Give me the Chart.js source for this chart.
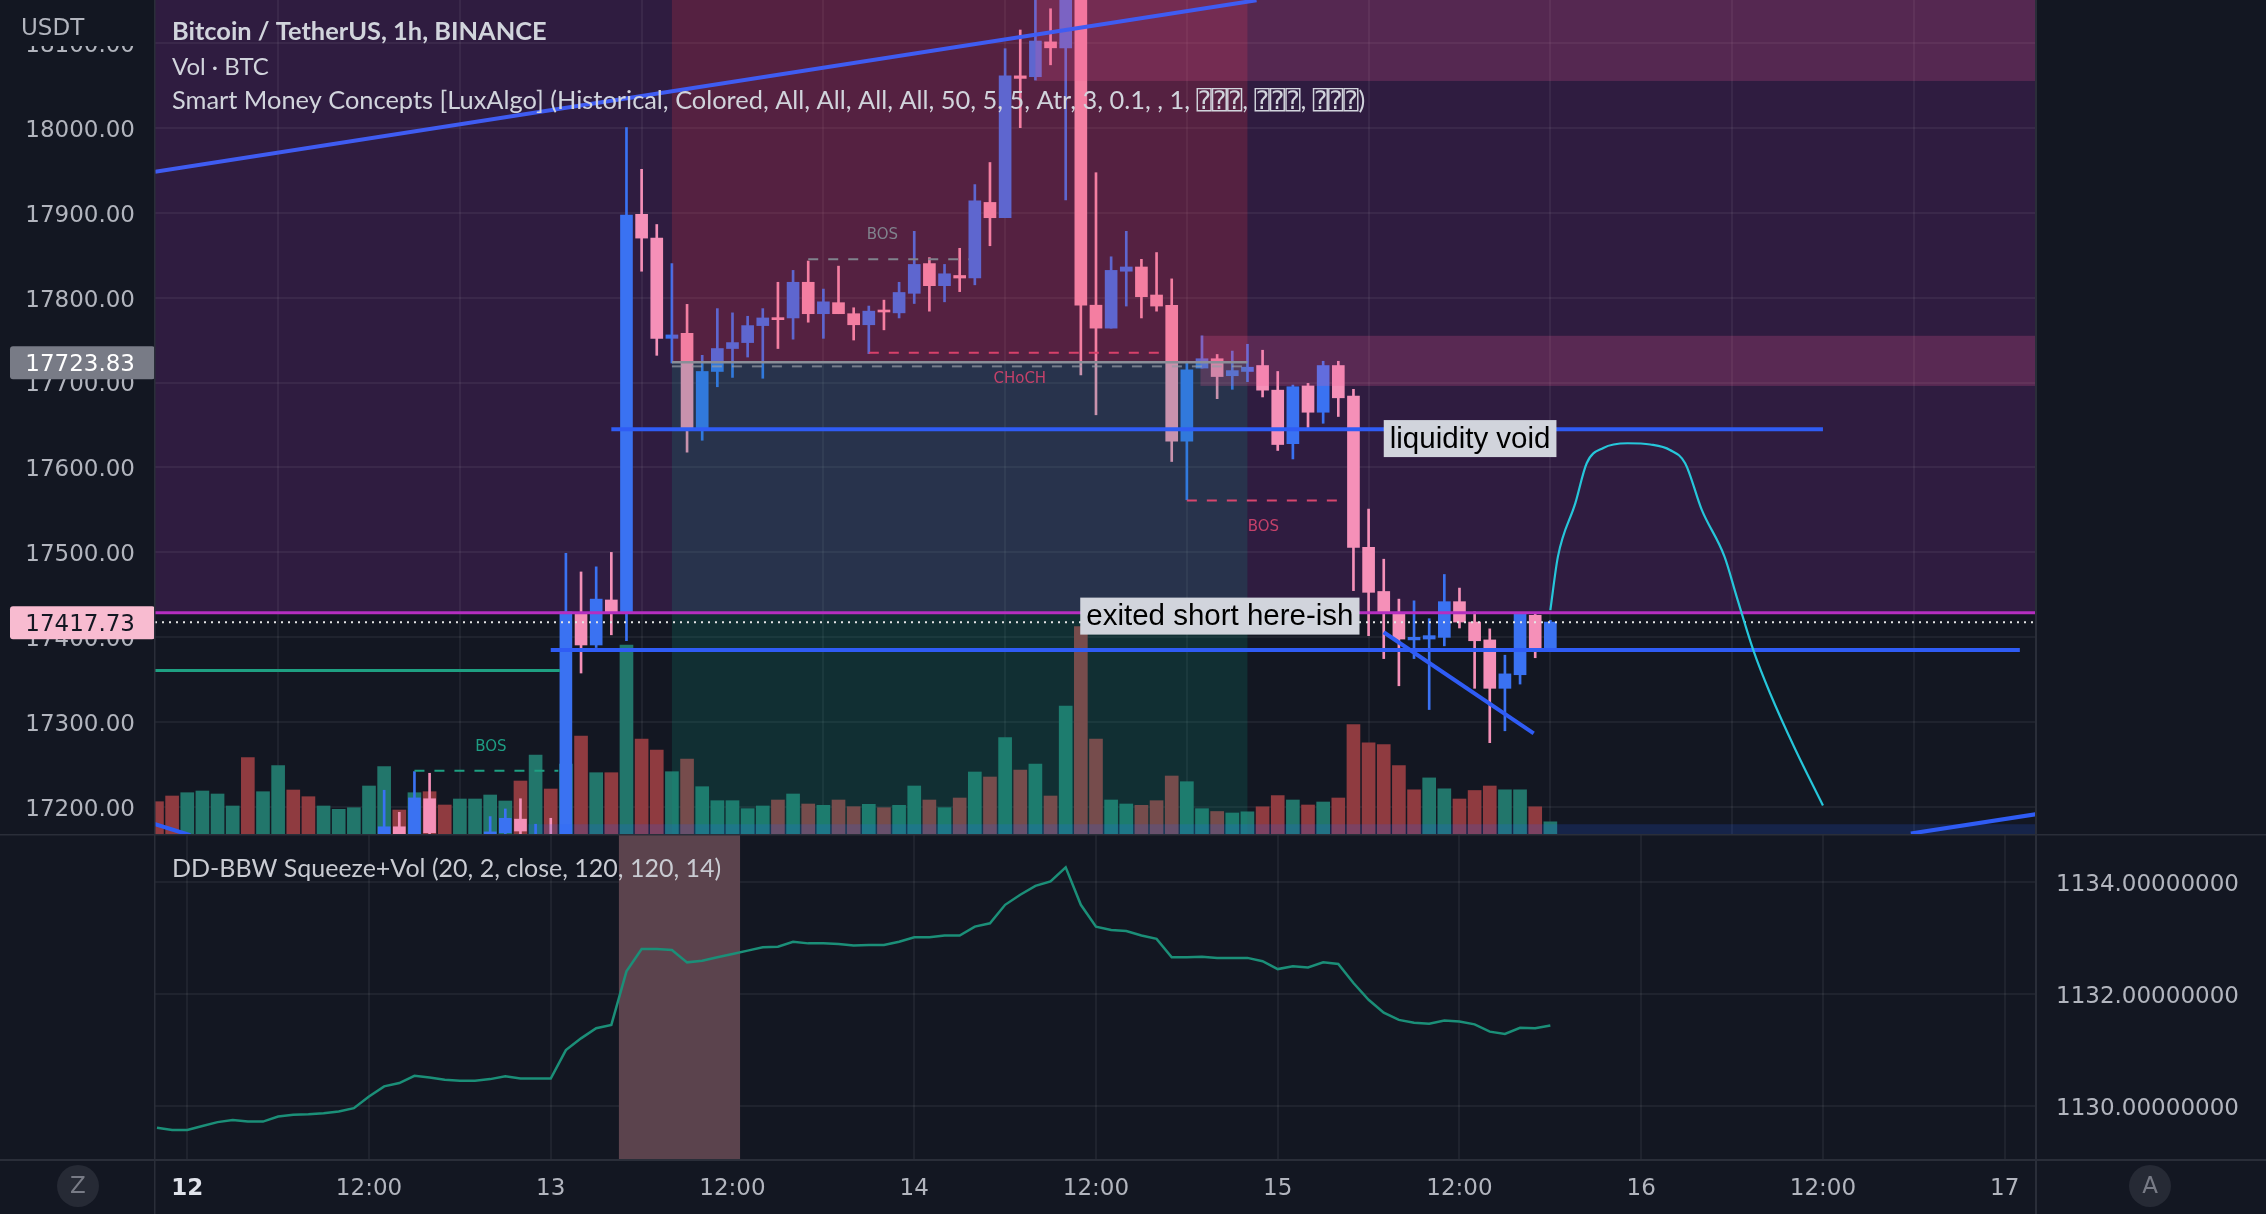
<!DOCTYPE html>
<html>
<head>
<meta charset="utf-8">
<title>Bitcoin / TetherUS, 1h, BINANCE</title>
<script src="https://cdn.jsdelivr.net/npm/chart.js@4.4.1/dist/chart.umd.min.js"></script>
<style>
  html, body { margin:0; padding:0; background:#131722; }
  body { width:2266px; height:1214px; position:relative; overflow:hidden; }
  canvas { position:absolute; left:0; display:block; }
  #main { top:0; }
  #lower { top:834px; }
</style>
</head>
<body>
<canvas id="main" width="2266" height="834"></canvas>
<canvas id="lower" width="2266" height="380"></canvas>
<script>
// ---------------- DATA ----------------
// first bar = 11 Dec 22:00 (hour -2 relative to 12 Dec 00:00), one bar per hour
const START_HOUR = -2;

const opens = [
  17150,17140,17128,17135,17142,17150,17153,17125,17132,17150,17138,17130,17136,17140,17145, // -2..12
  17150,17177,17165,17210,17165,17150,17158,17160,17170,17186,17165,17166,                   // 13..24
  17155,17428,17391,17444,17428,17898,17870,17752,17758,17646,17713,17740,                   // 25..36
  17747,17767,17776,17776,17818,17781,17794,17781,17768,17785,17782,17805,                   // 37..48
  17840,17814,17826,17823,17912,17894,18061,18060,18101,18094,18170,17791,                   // 49..60
  17764,17831,17836,17803,17791,17631,17717,17728,17708,17713,17720,17691,                   // 61..72
  17628,17696,17665,17720,17684,17506,17454,17428,17397,17398,17400,17442,                   // 73..84
  17418,17397,17340,17356,17426,17387                                                        // 85..90
];
const highs = [
  17160,17150,17140,17146,17155,17158,17160,17138,17158,17156,17145,17140,17144,17150,17162,
  17220,17194,17242,17240,17166,17165,17166,17189,17198,17210,17180,17187,
  17499,17477,17483,17500,18000,17951,17886,17840,17792,17732,17787,17782,
  17778,17787,17818,17832,17843,17810,17837,17788,17790,17797,17818,17878,
  17847,17839,17858,17933,17959,18093,18115,18170,18140,18230,18200,17947,
  17848,17878,17845,17853,17822,17725,17755,17733,17737,17745,17738,17713,
  17697,17699,17725,17725,17692,17551,17492,17445,17443,17422,17474,17458,
  17430,17410,17379,17428,17429,17420
];
const lows = [
  17130,17120,17120,17128,17136,17144,17110,17118,17128,17132,17125,17124,17130,17134,17140,
  17140,17150,17160,17160,17140,17145,17150,17155,17165,17165,17160,17150,
  17150,17358,17388,17403,17396,17831,17732,17723,17618,17632,17695,17706,
  17730,17705,17740,17751,17771,17752,17781,17750,17734,17762,17776,17793,
  17784,17795,17807,17815,17861,17894,18000,18056,18074,17915,17709,17662,
  17764,17790,17776,17784,17607,17562,17717,17681,17692,17701,17683,17620,
  17610,17647,17652,17660,17455,17402,17375,17343,17375,17315,17390,17411,
  17340,17276,17290,17345,17376,17386
];
const closes = [
  17140,17128,17135,17142,17150,17153,17125,17132,17150,17138,17130,17136,17140,17145,17155,
  17177,17160,17211,17170,17150,17158,17162,17171,17187,17172,17168,17155,
  17430,17391,17445,17428,17897,17870,17752,17756,17646,17713,17740,17747,
  17767,17776,17774,17818,17781,17795,17781,17768,17784,17783,17806,17839,
  17814,17828,17823,17914,17894,18061,18058,18102,18094,18175,17791,17764,
  17832,17836,17801,17790,17631,17715,17728,17707,17714,17718,17691,17627,
  17695,17665,17720,17682,17506,17453,17430,17398,17400,17402,17442,17418,
  17396,17340,17357,17428,17387,17418
];
// volume (BTC) and its direction (1 = up bar, 0 = down bar)
const volumes = [
  1292,1520,1652,1720,1600,1120,3052,1692,2732,1760,1492,1120,988,1052,1920,
  2692,960,1652,1692,1160,1400,1400,1560,1320,2120,3160,1800,
  2800,3920,2452,2452,7560,3800,3360,2492,3000,1892,1332,1332,
  1012,1120,1360,1600,1200,1148,1360,1092,1188,1052,1148,1920,
  1360,1052,1440,2480,2280,3852,2560,2800,1520,5120,8296,3800,
  1360,1200,1148,1332,2320,2092,1012,900,840,888,1088,1536,
  1360,1160,1280,1440,4372,3648,3580,2736,1768,2244,1808,1400,
  1740,1920,1768,1768,1088,488
];
const volUp = [
  0,0,1,1,1,1,0,1,1,0,0,1,1,1,1,
  1,0,1,0,0,1,1,1,1,0,1,0,
  1,0,1,0,1,0,0,1,0,1,1,1,
  1,1,0,1,0,1,0,0,1,0,1,1,
  0,1,0,1,0,1,0,1,0,1,0,0,
  1,1,0,0,0,1,1,0,1,1,0,0,
  1,0,1,0,0,0,0,0,0,1,1,0,
  0,0,1,1,0,1
];
// DD-BBW Squeeze+Vol line
const bbw = [
  1129.61,1129.57,1129.57,1129.64,1129.71,1129.75,1129.72,1129.72,1129.81,1129.84,1129.85,1129.87,1129.90,1129.96,1130.17,
  1130.35,1130.41,1130.54,1130.51,1130.47,1130.45,1130.45,1130.48,1130.53,1130.49,1130.49,1130.49,
  1131.00,1131.21,1131.39,1131.45,1132.41,1132.81,1132.81,1132.79,1132.57,1132.60,1132.66,1132.72,
  1132.78,1132.84,1132.85,1132.94,1132.91,1132.91,1132.90,1132.87,1132.88,1132.88,1132.94,1133.02,
  1133.02,1133.05,1133.05,1133.21,1133.27,1133.60,1133.78,1133.94,1134.02,1134.27,1133.60,1133.21,
  1133.15,1133.13,1133.05,1132.99,1132.66,1132.66,1132.67,1132.65,1132.65,1132.65,1132.59,1132.45,
  1132.50,1132.48,1132.57,1132.54,1132.20,1131.90,1131.67,1131.54,1131.49,1131.47,1131.53,1131.51,
  1131.46,1131.33,1131.29,1131.40,1131.39,1131.44
];
// squeeze period on the lower pane [from hour, to hour]
const squeezeSpan = [28.5, 36.5];

// axis ticks
const timeTickHours  = [0, 12, 24, 36, 48, 60, 72, 84, 96, 108, 120];
const timeTickLabels = ['12', '12:00', '13', '12:00', '14', '12:00', '15', '12:00', '16', '12:00', '17'];
const priceTicks = [17200, 17300, 17400, 17500, 17600, 17700, 17800, 17900, 18000, 18100];
const bbwTicks = [1130, 1132, 1134];

// drawn lines: [hour, price] pairs
const trendTop      = [[-2.13, 17948], [70.6, 18150]];
const trendBottomR  = [[113.8, 17169], [122.5, 17193]];
const trendBottomL  = [[-2.2, 17180.5], [0.2, 17167]];
const fallLine      = [[79, 17406], [88.9, 17287]];
const levelUpper    = [[28, 17645], [108, 17645]];
const levelLower    = [[24, 17385], [121, 17385]];
const greenLevel    = [[-2.2, 17361], [24.6, 17361]];
const premiumLine   = [[-3, 17429], [125, 17429]];
const grayLevel     = [[32, 17723.83], [70, 17723.83]];
const grayDashLevel = [[32, 17719], [70, 17719]];
const bosGray       = [[41, 17845], [51.6, 17845]];
const chochRed      = [[45, 17735], [64.6, 17735]];
const bosRed        = [[66, 17561], [76.5, 17561]];
const bosGreen      = [[15, 17243], [24.5, 17243]];
const projection    = [[90.0, 17432], [90.5, 17495], [91.65, 17558], [92.4, 17605], [93.5, 17623], [95.1, 17628.5],
                       [96.6, 17627], [97.9, 17620.6], [98.9, 17605], [100, 17550], [101.5, 17495], [102.3, 17448],
                       [103.4, 17385], [104.5, 17334.5], [106.2, 17267], [108.0, 17202]];
const lastPrice = 17417.73;
const grayLevelPrice = 17723.83;
const premiumBottom = 17429;

// zones: [fromHour, toHour, lowPrice, highPrice]  (open ends clipped at the chart area)
const zoneBearOB  = [32, 70, 17723.83, 19000];
const zoneBullOB  = [32, 70, 17000, 17723.83];
const zoneTopR    = [56, 200, 18055, 19000];
const zoneMidR    = [66.9, 200, 17696, 17755];
const zoneBottomR = [22.5, 200, 17000, 17180];

// texts [text, hour, price]
const structureLabels = [['BOS', 45.9, 17874, 'gray'], ['CHoCH', 54.97, 17704, 'red'], ['BOS', 71.05, 17530, 'red'], ['BOS', 20.05, 17271, 'green']];
const noteLabels = [['liquidity void', 79.0, 17634], ['exited short here-ish', 58.96, 17425]];

const X_MIN = -2.13, X_MAX = 122.0;
const Y_MIN = 17168.5, Y_MAX = 18150.3;
const B_MIN = 1129.05, B_MAX = 1134.85;
const VOL_MAX = 33360;

// ---------------- STYLE ----------------
const BG = '#131722';
const PURPLE = '#2f1c40';
const GRID = 'rgba(255,255,255,0.055)';
const SEP = '#2a2e39';
const AXIS_TXT = '#b2b5be';
const BULL = '#3a72f2', BEAR = '#f590b8';
const VOL_UP = '#22766b', VOL_DN = '#8f3b40';
const LINE_BLUE = '#2f5cf5';
const AX_FONT = 'DejaVu Sans';
const HEAD_FONT = 'Lato, "DejaVu Sans", "DejaVu Sans Mono"';

const hrs = opens.map((_, i) => START_HOUR + i);
const candleColors = opens.map((o, i) => closes[i] >= o ? BULL : BEAR);
const pts = arr => arr.map(([x, y]) => ({x, y}));

function seg(points, color, width, dash, extra) {
  return Object.assign({
    type: 'line', yAxisID: 'y', data: pts(points), borderColor: color, borderWidth: width,
    borderDash: dash || [], pointRadius: 0, fill: false, tension: 0, order: 10, clip: 0
  }, extra || {});
}

function fixAxis(w, h) {
  return s => {
    if (w !== null) s.width = w;
    if (h !== null) s.height = h;
    s.paddingTop = 0; s.paddingBottom = 0; s.paddingLeft = 0; s.paddingRight = 0;
  };
}

function rectZone(chart, z, color) {
  const {ctx, scales: {x, y}} = chart;
  const x0 = x.getPixelForValue(z[0]), x1 = x.getPixelForValue(z[1]);
  const y0 = y.getPixelForValue(z[3]), y1 = y.getPixelForValue(z[2]);
  ctx.fillStyle = color;
  ctx.fillRect(x0, y0, x1 - x0, y1 - y0);
}

function roundRect(ctx, x, y, w, h, r) {
  ctx.beginPath();
  ctx.moveTo(x + r, y); ctx.lineTo(x + w - r, y); ctx.quadraticCurveTo(x + w, y, x + w, y + r);
  ctx.lineTo(x + w, y + h - r); ctx.quadraticCurveTo(x + w, y + h, x + w - r, y + h);
  ctx.lineTo(x + r, y + h); ctx.quadraticCurveTo(x, y + h, x, y + h - r);
  ctx.lineTo(x, y + r); ctx.quadraticCurveTo(x, y, x + r, y); ctx.closePath();
}

const mainDeco = {
  id: 'mainDeco',
  beforeDraw(chart) {
    const {ctx, chartArea: a, scales: {y}} = chart;
    ctx.save();
    ctx.fillStyle = BG; ctx.fillRect(0, 0, chart.width, chart.height);
    const yb = y.getPixelForValue(premiumBottom);
    ctx.fillStyle = PURPLE; ctx.fillRect(a.left, a.top, a.right - a.left, yb - a.top);
    ctx.restore();
  },
  afterDatasetDraw(chart, args) {
    if (chart.data.datasets[args.index].label !== 'bodies') return;
    const {ctx, chartArea: a} = chart;
    ctx.save();
    ctx.beginPath(); ctx.rect(a.left, a.top, a.right - a.left, a.bottom - a.top); ctx.clip();
    rectZone(chart, zoneBearOB, 'rgba(242,54,69,0.20)');
    rectZone(chart, zoneBullOB, 'rgba(8,153,129,0.19)');
    rectZone(chart, zoneTopR, 'rgba(240,90,150,0.20)');
    rectZone(chart, zoneMidR, 'rgba(240,90,150,0.22)');
    rectZone(chart, zoneBottomR, 'rgba(41,98,255,0.18)');
    ctx.restore();
  },
  afterDatasetsDraw(chart) {
    const {ctx, chartArea: a, scales: {x, y}} = chart;
    ctx.save();
    ctx.beginPath(); ctx.rect(a.left, a.top, a.right - a.left, a.bottom - a.top); ctx.clip();
    // structure labels
    const cols = {gray: '#80838d', red: '#c4416a', green: '#1e9e84'};
    ctx.font = '15px "' + AX_FONT + '"';
    ctx.textAlign = 'center'; ctx.textBaseline = 'middle';
    structureLabels.forEach(([t, h, p, c]) => {
      ctx.fillStyle = cols[c];
      ctx.fillText(t, x.getPixelForValue(h), y.getPixelForValue(p));
    });
    // note boxes
    ctx.font = '29.5px "Liberation Sans", Arial, sans-serif';
    ctx.textAlign = 'left'; ctx.textBaseline = 'middle';
    noteLabels.forEach(([t, h, p]) => {
      const px = x.getPixelForValue(h), py = y.getPixelForValue(p);
      const w = ctx.measureText(t).width + 12;
      ctx.fillStyle = '#d1d4dc';
      ctx.fillRect(px, py - 18.5, w, 37);
      ctx.fillStyle = '#000000';
      ctx.fillText(t, px + 6, py + 1);
    });
    ctx.restore();
  },
  afterDraw(chart) {
    const {ctx, chartArea: a, scales: {y}} = chart;
    ctx.save();
    // cover the top of the price scale + currency
    ctx.fillStyle = BG; ctx.fillRect(0, 0, a.left, 46);
    ctx.fillStyle = AXIS_TXT; ctx.font = '23px "' + AX_FONT + '"';
    ctx.textAlign = 'left'; ctx.textBaseline = 'alphabetic';
    ctx.fillText('USDT', 21, 35);
    // price tags
    const tag = (price, bg, fg) => {
      const py = y.getPixelForValue(price);
      ctx.fillStyle = bg; roundRect(ctx, 10, py - 16, a.left - 10, 33, 3); ctx.fill();
      ctx.fillStyle = fg; ctx.font = '23px "' + AX_FONT + '"';
      ctx.textAlign = 'right'; ctx.textBaseline = 'middle';
      ctx.fillText(price.toFixed(2), 135, py + 3);
    };
    tag(grayLevelPrice, '#787b86', '#ffffff');
    tag(lastPrice, '#f8bbd0', '#131722');
    // headers
    ctx.textAlign = 'left'; ctx.textBaseline = 'alphabetic';
    ctx.fillStyle = '#d1d4dc';
    ctx.font = 'bold 25.4px ' + HEAD_FONT;
    ctx.fillText('Bitcoin / TetherUS, 1h, BINANCE', 172, 40);
    ctx.font = '24px ' + HEAD_FONT;
    ctx.fillText('Vol · BTC', 172, 75);
    ctx.font = '25.4px ' + HEAD_FONT;
    ctx.fillText('Smart Money Concepts [LuxAlgo] (Historical, Colored, All, All, All, All, 50, 5, 5, Atr, 3, 0.1, , 1, ⍰⍰⍰, ⍰⍰⍰, ⍰⍰⍰)', 172, 109);
    // separators
    ctx.fillStyle = SEP;
    ctx.fillRect(a.left - 1, 0, 1.5, chart.height);
    ctx.fillRect(a.right, 0, 2, chart.height);
    ctx.restore();
  }
};

const mainChart = new Chart(document.getElementById('main'), {
  type: 'bar',
  data: {
    datasets: [
      {type: 'bar', label: 'volume', yAxisID: 'yVol', data: hrs.map((t, i) => ({x: t, y: volumes[i]})),
       backgroundColor: volUp.map(u => u ? VOL_UP : VOL_DN), barThickness: 13, grouped: false, order: 50, clip: 0, borderWidth: 0},
      {type: 'bar', label: 'wicks', yAxisID: 'y', data: hrs.map((t, i) => ({x: t, y: [lows[i], highs[i]]})),
       backgroundColor: candleColors, barThickness: 2, grouped: false, order: 40, clip: 0, borderWidth: 0},
      {type: 'bar', label: 'bodies', yAxisID: 'y', data: hrs.map((t, i) => ({x: t, y: [opens[i], closes[i]]})),
       backgroundColor: candleColors, barThickness: 12, minBarLength: 2, grouped: false, order: 30, clip: 0, borderWidth: 0},
      seg(premiumLine, '#b52ec0', 3),
      seg(grayLevel, '#8a8e98', 2.5),
      seg(grayDashLevel, 'rgba(150,155,165,0.7)', 2, [10, 10]),
      seg(bosGray, '#80838d', 2, [10, 10]),
      seg(chochRed, '#d8406a', 2, [10, 10]),
      seg(bosRed, '#d8466e', 2, [10, 10]),
      seg(bosGreen, '#1ea082', 2, [10, 10]),
      seg(greenLevel, '#1ea082', 3),
      seg(trendTop, '#3f5cf2', 4),
      seg(trendBottomR, LINE_BLUE, 4),
      seg(trendBottomL, LINE_BLUE, 4),
      seg(fallLine, LINE_BLUE, 4),
      seg(levelUpper, LINE_BLUE, 4),
      seg(levelLower, LINE_BLUE, 4),
      seg([[X_MIN, lastPrice], [X_MAX, lastPrice]], '#e6e6e6', 2, [2, 5]),
      seg(projection, '#26c6da', 2.2, [], {cubicInterpolationMode: 'monotone', order: 5})
    ]
  },
  options: {
    responsive: false, animation: false, events: [],
    layout: {padding: {left: 0, right: 231, top: 0, bottom: 0}},
    plugins: {legend: {display: false}, tooltip: {enabled: false}},
    scales: {
      x: {type: 'linear', min: X_MIN, max: X_MAX, offset: false, position: 'bottom',
          grid: {color: GRID, lineWidth: 2, drawTicks: false}, border: {display: false},
          ticks: {display: false},
          afterBuildTicks: s => { s.ticks = timeTickHours.map(v => ({value: v})); },
          afterFit: fixAxis(null, 0)},
      y: {type: 'linear', position: 'left', min: Y_MIN, max: Y_MAX,
          grid: {color: GRID, lineWidth: 2, drawTicks: false}, border: {display: false},
          ticks: {color: AXIS_TXT, font: {family: AX_FONT, size: 23}, padding: 20, labelOffset: 3, callback: v => v.toFixed(2)},
          afterBuildTicks: s => { s.ticks = priceTicks.map(v => ({value: v})); },
          afterFit: fixAxis(155, null)},
      yVol: {type: 'linear', display: false, min: 0, max: VOL_MAX}
    }
  },
  plugins: [mainDeco]
});

const lowerDeco = {
  id: 'lowerDeco',
  beforeDraw(chart) {
    const {ctx} = chart;
    ctx.save(); ctx.fillStyle = BG; ctx.fillRect(0, 0, chart.width, chart.height); ctx.restore();
  },
  beforeDatasetsDraw(chart) {
    const {ctx, chartArea: a, scales: {x}} = chart;
    ctx.save();
    const x0 = x.getPixelForValue(squeezeSpan[0]), x1 = x.getPixelForValue(squeezeSpan[1]);
    ctx.fillStyle = '#5b434d';
    ctx.fillRect(x0, a.top, x1 - x0, a.bottom - a.top);
    ctx.restore();
  },
  afterDraw(chart) {
    const {ctx, chartArea: a} = chart;
    ctx.save();
    ctx.fillStyle = '#c9cbd2';
    ctx.font = '25px ' + HEAD_FONT;
    ctx.textAlign = 'left'; ctx.textBaseline = 'alphabetic';
    ctx.fillText('DD-BBW Squeeze+Vol (20, 2, close, 120, 120, 14)', 172, 877 - 834);
    // separators
    ctx.fillStyle = SEP;
    ctx.fillRect(0, 0, chart.width, 1.5);
    ctx.fillRect(0, a.bottom, chart.width, 2);
    ctx.fillRect(a.left - 1, 0, 1.5, chart.height);
    ctx.fillRect(a.right, 0, 2, chart.height);
    // round buttons
    const btn = (cx, letter) => {
      ctx.fillStyle = '#262a35';
      ctx.beginPath(); ctx.arc(cx, 1186 - 834, 21, 0, Math.PI * 2); ctx.fill();
      ctx.fillStyle = '#787b86'; ctx.font = '23px "' + AX_FONT + '"';
      ctx.textAlign = 'center'; ctx.textBaseline = 'middle';
      ctx.fillText(letter, cx, 1186 - 834 + 1);
    };
    btn(78, 'Z');
    btn(2150, 'A');
    ctx.restore();
  }
};

const lowerChart = new Chart(document.getElementById('lower'), {
  type: 'line',
  data: {
    datasets: [{data: hrs.map((t, i) => ({x: t, y: bbw[i]})), borderColor: '#1b8f78', borderWidth: 2.5,
                pointRadius: 0, tension: 0, fill: false, clip: 0}]
  },
  options: {
    responsive: false, animation: false, events: [],
    layout: {padding: {left: 155, right: 0, top: 1, bottom: 0}},
    plugins: {legend: {display: false}, tooltip: {enabled: false}},
    scales: {
      x: {type: 'linear', min: X_MIN, max: X_MAX, offset: false, position: 'bottom',
          grid: {color: GRID, lineWidth: 2, drawTicks: false}, border: {display: false},
          ticks: {autoSkip: false, maxRotation: 0, padding: 16,
                  color: c => (c.tick && c.tick.value === 0) ? '#e0e3eb' : AXIS_TXT,
                  font: c => ({family: AX_FONT, size: 23, weight: (c.tick && c.tick.value === 0) ? 'bold' : 'normal'}),
                  callback: v => { const i = timeTickHours.indexOf(v); return i >= 0 ? timeTickLabels[i] : ''; }},
          afterBuildTicks: s => { s.ticks = timeTickHours.map(v => ({value: v})); },
          afterFit: fixAxis(null, 55)},
      y: {type: 'linear', position: 'right', min: B_MIN, max: B_MAX,
          grid: {color: GRID, lineWidth: 2, drawTicks: false}, border: {display: false},
          ticks: {color: AXIS_TXT, font: {family: AX_FONT, size: 23}, padding: 21, labelOffset: 3, callback: v => v.toFixed(8)},
          afterBuildTicks: s => { s.ticks = bbwTicks.map(v => ({value: v})); },
          afterFit: fixAxis(231, null)}
    }
  },
  plugins: [lowerDeco]
});
</script>
</body>
</html>
